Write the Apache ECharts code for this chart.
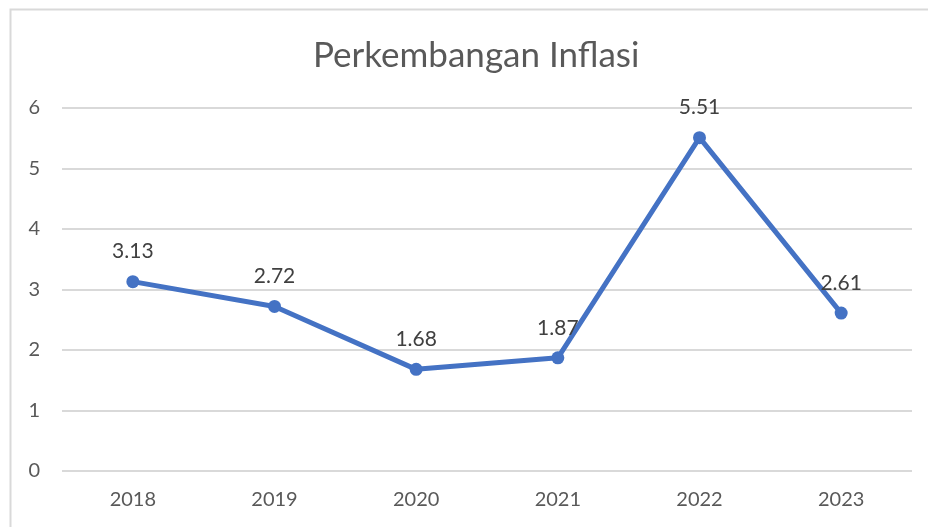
<!DOCTYPE html>
<html>
<head>
<meta charset="utf-8">
<script src="https://cdn.jsdelivr.net/npm/echarts@6/dist/echarts.min.js"></script>
<style>
  html, body { margin: 0; padding: 0; background: #fff; }
  #chart { width: 928px; height: 527px; }
</style>
</head>
<body>
<div id="chart"></div>
<script>
  // inflation data
  const years = ['2018', '2019', '2020', '2021', '2022', '2023'];
  const inflasi = [3.13, 2.72, 1.68, 1.87, 5.51, 2.61];
  const yTicks = { min: 0, max: 6, interval: 1 };

  const font = 'Lato, "Liberation Sans", sans-serif';
  const chart = echarts.init(document.getElementById('chart'));

  chart.setOption({
    backgroundColor: '#fff',
    animation: false,
    title: {
      text: 'Perkembangan Inflasi',
      left: 308, // the original chart is cropped, so its title sits right of centre
      top: 33,
      textStyle: { fontFamily: font, fontSize: 35, fontWeight: 'normal', color: '#595959' }
    },
    graphic: [{
      type: 'rect',
      shape: { x: 10.5, y: 9.5, width: 940, height: 540 },
      style: { fill: 'none', stroke: '#d9d9d9', lineWidth: 2 },
      silent: true
    }],
    grid: { left: 62, right: 16, top: 108, bottom: 56 },
    xAxis: {
      type: 'category',
      data: years,
      boundaryGap: true,
      axisLine: { show: false },
      axisTick: { show: false },
      axisLabel: { margin: 19, fontFamily: font, fontSize: 20, color: '#595959' }
    },
    yAxis: {
      type: 'value',
      min: yTicks.min,
      max: yTicks.max,
      interval: yTicks.interval,
      axisLine: { show: false },
      axisTick: { show: false },
      axisLabel: { margin: 22, fontFamily: font, fontSize: 20, color: '#595959' },
      splitLine: { lineStyle: { color: '#d9d9d9', width: 2 } }
    },
    series: [{
      type: 'line',
      data: inflasi,
      symbol: 'circle',
      symbolSize: 13,
      lineStyle: { color: '#4472c4', width: 5 },
      itemStyle: { color: '#4472c4' },
      label: {
        show: true,
        position: 'top',
        distance: 13,
        fontFamily: font,
        fontSize: 21,
        color: '#404040'
      }
    }]
  });
</script>
</body>
</html>
